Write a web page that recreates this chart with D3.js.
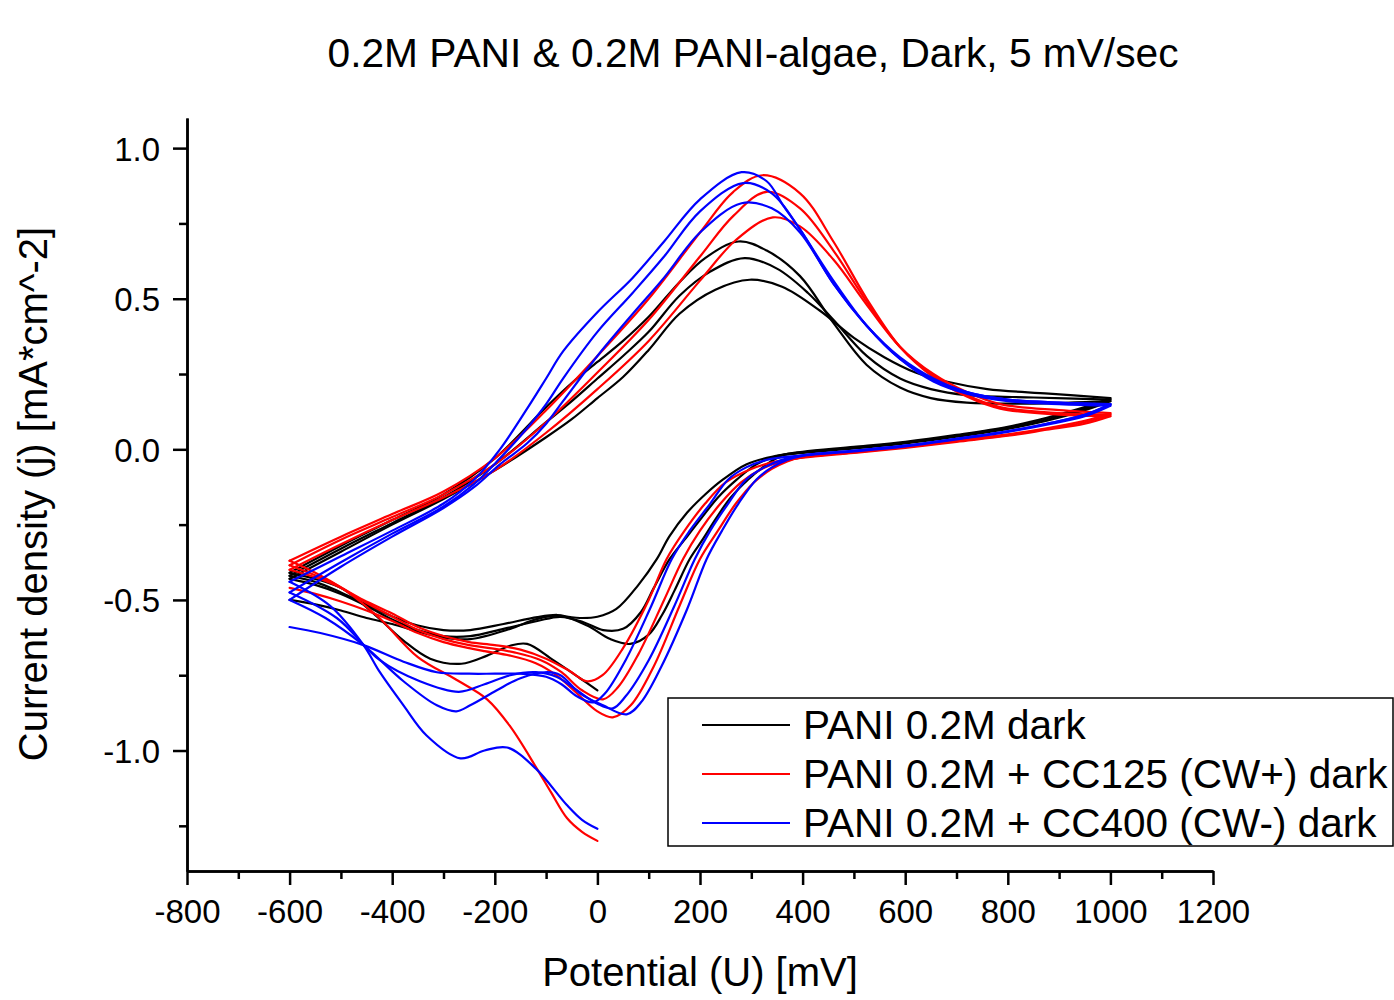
<!DOCTYPE html>
<html>
<head>
<meta charset="utf-8">
<script src="https://d3js.org/d3.v7.min.js"></script>
<style>
  body { margin: 0; background: #fff; }
  svg text { font-family: "Liberation Sans", Arial, sans-serif; fill: #000; }
</style>
</head>
<body>
<svg id="chart" width="1394" height="1000"></svg>
<script>
// potential [mV], current density [mA/cm^2]
// each run: start at 0 mV going cathodic, then 3 full cycles -600 .. 1000
const blackInit = [[0,-0.80],[-34,-0.76],[-86,-0.70],[-137,-0.646],[-170,-0.652],[-215,-0.685],[-265,-0.712],[-326,-0.695],[-378,-0.635],[-430,-0.555],[-495,-0.465],[-550,-0.43],[-600,-0.41]];
const blackAn1 = [[-600,-0.41],[-500,-0.32],[-400,-0.235],[-300,-0.15],[-200,-0.03],[-100,0.14],[-50,0.22],[0,0.29],[50,0.36],[100,0.44],[160,0.555],[210,0.635],[275,0.69],[330,0.66],[395,0.575],[460,0.42],[525,0.28],[590,0.205],[650,0.17],[720,0.155],[850,0.152],[1000,0.16]];
const blackCat1 = [[1000,0.16],[950,0.13],[876,0.095],[800,0.068],[700,0.042],[600,0.02],[500,0.003],[400,-0.012],[340,-0.025],[290,-0.05],[245,-0.10],[210,-0.15],[175,-0.21],[140,-0.29],[116,-0.364],[80,-0.45],[37,-0.53],[0,-0.556],[-34,-0.56],[-53,-0.557],[-78,-0.55],[-117,-0.557],[-183,-0.58],[-248,-0.60],[-300,-0.60],[-350,-0.585],[-400,-0.555],[-450,-0.515],[-500,-0.475],[-550,-0.44],[-600,-0.42]];
const blackAn2 = [[-600,-0.42],[-500,-0.33],[-400,-0.245],[-300,-0.16],[-200,-0.05],[-100,0.09],[-50,0.16],[0,0.235],[50,0.31],[100,0.39],[160,0.51],[220,0.59],[287,0.635],[350,0.60],[410,0.52],[460,0.43],[525,0.31],[590,0.235],[650,0.20],[720,0.18],[850,0.172],[1000,0.165]];
const blackCat2 = [[1000,0.165],[950,0.135],[876,0.10],[800,0.072],[700,0.045],[600,0.022],[500,0.005],[400,-0.01],[350,-0.022],[310,-0.05],[272,-0.10],[235,-0.16],[202,-0.23],[170,-0.30],[141,-0.364],[110,-0.46],[85,-0.54],[50,-0.596],[11,-0.60],[-27,-0.574],[-72,-0.556],[-117,-0.57],[-183,-0.596],[-248,-0.62],[-300,-0.62],[-350,-0.60],[-400,-0.565],[-450,-0.52],[-500,-0.48],[-550,-0.45],[-600,-0.43]];
const blackAn3 = [[-600,-0.43],[-500,-0.34],[-400,-0.25],[-300,-0.165],[-200,-0.07],[-100,0.04],[-50,0.10],[0,0.17],[50,0.24],[100,0.33],[160,0.45],[230,0.53],[297,0.563],[360,0.54],[434,0.46],[500,0.37],[560,0.305],[620,0.255],[680,0.225],[760,0.20],[880,0.185],[1000,0.17]];
const blackCat3 = [[1000,0.17],[950,0.14],[876,0.105],[800,0.075],[700,0.048],[600,0.025],[500,0.008],[400,-0.008],[360,-0.02],[330,-0.05],[294,-0.10],[260,-0.16],[231,-0.23],[205,-0.30],[180,-0.364],[150,-0.47],[126,-0.55],[100,-0.615],[64,-0.646],[25,-0.63],[-20,-0.585],[-72,-0.553],[-117,-0.563],[-170,-0.596],[-248,-0.63],[-300,-0.625],[-350,-0.605],[-400,-0.58],[-450,-0.56],[-500,-0.535],[-550,-0.515],[-600,-0.50]];

const redInit = [[0,-1.30],[-30,-1.27],[-59,-1.225],[-90,-1.14],[-118,-1.06],[-170,-0.92],[-215,-0.83],[-275,-0.765],[-350,-0.69],[-425,-0.56],[-490,-0.47],[-550,-0.41],[-600,-0.37]];
const redAn1 = [[-600,-0.37],[-500,-0.29],[-400,-0.215],[-300,-0.14],[-200,-0.03],[-100,0.13],[0,0.31],[100,0.50],[200,0.72],[265,0.855],[322,0.91],[395,0.85],[460,0.69],[525,0.50],[590,0.34],[655,0.24],[720,0.175],[785,0.135],[900,0.115],[1000,0.11]];
const redCat1 = [[1000,0.11],[950,0.085],[876,0.065],[800,0.045],[700,0.025],[600,0.005],[500,-0.012],[400,-0.028],[350,-0.04],[300,-0.065],[250,-0.11],[210,-0.18],[170,-0.27],[135,-0.364],[100,-0.50],[50,-0.66],[10,-0.75],[-20,-0.77],[-55,-0.735],[-100,-0.695],[-150,-0.665],[-200,-0.65],[-250,-0.64],[-300,-0.62],[-350,-0.59],[-400,-0.545],[-456,-0.50],[-521,-0.44],[-600,-0.385]];
const redAn2 = [[-600,-0.385],[-500,-0.30],[-400,-0.225],[-300,-0.15],[-200,-0.05],[-100,0.09],[0,0.255],[100,0.43],[200,0.64],[265,0.775],[330,0.855],[395,0.80],[460,0.66],[525,0.49],[590,0.34],[655,0.245],[720,0.18],[785,0.14],[900,0.12],[1000,0.115]];
const redCat2 = [[1000,0.115],[950,0.09],[876,0.068],[800,0.047],[700,0.027],[600,0.007],[500,-0.01],[400,-0.027],[360,-0.04],[320,-0.065],[280,-0.11],[240,-0.18],[200,-0.27],[167,-0.364],[130,-0.50],[80,-0.68],[40,-0.79],[11,-0.83],[-30,-0.80],[-70,-0.74],[-110,-0.70],[-160,-0.675],[-210,-0.66],[-250,-0.65],[-300,-0.63],[-350,-0.60],[-400,-0.555],[-450,-0.51],[-500,-0.46],[-550,-0.425],[-600,-0.40]];
const redAn3 = [[-600,-0.40],[-500,-0.315],[-400,-0.235],[-300,-0.16],[-200,-0.07],[-100,0.055],[0,0.20],[100,0.36],[200,0.56],[270,0.695],[342,0.77],[395,0.74],[460,0.63],[525,0.48],[590,0.34],[655,0.25],[720,0.19],[785,0.15],[900,0.13],[1000,0.12]];
const redCat3 = [[1000,0.12],[950,0.095],[876,0.07],[800,0.05],[700,0.03],[600,0.01],[500,-0.008],[400,-0.025],[370,-0.04],[340,-0.065],[305,-0.11],[270,-0.18],[235,-0.27],[200,-0.364],[160,-0.52],[110,-0.72],[65,-0.85],[30,-0.89],[0,-0.87],[-40,-0.81],[-80,-0.75],[-120,-0.71],[-170,-0.685],[-220,-0.67],[-250,-0.66],[-300,-0.64],[-350,-0.61],[-400,-0.57],[-450,-0.535],[-500,-0.505],[-550,-0.48],[-600,-0.46]];

const blueInit = [[0,-1.26],[-30,-1.23],[-60,-1.18],[-120,-1.06],[-176,-0.99],[-220,-1.0],[-267,-1.026],[-333,-0.95],[-378,-0.85],[-424,-0.74],[-456,-0.65],[-521,-0.52],[-600,-0.44]];
const blueAn1 = [[-600,-0.44],[-500,-0.355],[-400,-0.27],[-300,-0.18],[-240,-0.10],[-190,0.0],[-137,0.135],[-100,0.235],[-67,0.325],[0,0.455],[69,0.57],[130,0.69],[200,0.83],[281,0.92],[330,0.89],[362,0.81],[395,0.73],[460,0.56],[525,0.41],[590,0.30],[655,0.23],[720,0.19],[800,0.165],[900,0.155],[1000,0.15]];
const blueCat1 = [[1000,0.15],[950,0.115],[876,0.085],[800,0.06],[700,0.035],[600,0.012],[500,-0.005],[400,-0.02],[360,-0.035],[325,-0.06],[290,-0.10],[255,-0.18],[220,-0.27],[190,-0.364],[150,-0.52],[100,-0.70],[55,-0.82],[30,-0.86],[0,-0.845],[-40,-0.80],[-80,-0.755],[-120,-0.74],[-170,-0.75],[-220,-0.78],[-270,-0.805],[-346,-0.77],[-424,-0.70],[-508,-0.56],[-600,-0.475]];
const blueAn2 = [[-600,-0.475],[-500,-0.375],[-400,-0.28],[-300,-0.19],[-240,-0.115],[-190,-0.03],[-137,0.07],[-100,0.15],[-67,0.235],[0,0.39],[69,0.52],[130,0.64],[200,0.79],[284,0.884],[340,0.85],[395,0.73],[460,0.55],[525,0.41],[590,0.30],[655,0.225],[720,0.185],[800,0.16],[900,0.15],[1000,0.145]];
const blueCat2 = [[1000,0.145],[950,0.11],[876,0.082],[800,0.058],[700,0.033],[600,0.01],[500,-0.007],[400,-0.022],[370,-0.035],[340,-0.06],[310,-0.10],[275,-0.18],[243,-0.27],[213,-0.364],[175,-0.53],[125,-0.72],[85,-0.84],[57,-0.88],[11,-0.85],[-34,-0.81],[-72,-0.75],[-98,-0.74],[-150,-0.76],[-196,-0.80],[-248,-0.85],[-275,-0.87],[-313,-0.85],[-378,-0.77],[-456,-0.65],[-530,-0.56],[-600,-0.50]];
const blueAn3 = [[-600,-0.50],[-500,-0.39],[-400,-0.29],[-300,-0.195],[-240,-0.125],[-190,-0.05],[-137,0.02],[-100,0.085],[-67,0.16],[0,0.31],[69,0.45],[130,0.57],[200,0.72],[281,0.817],[340,0.80],[395,0.72],[460,0.55],[525,0.41],[590,0.305],[655,0.235],[720,0.19],[800,0.165],[900,0.155],[1000,0.15]];
const blueCat3 = [[1000,0.15],[950,0.115],[876,0.085],[800,0.06],[700,0.035],[600,0.012],[500,-0.004],[400,-0.02],[330,-0.035],[290,-0.06],[255,-0.10],[220,-0.18],[180,-0.27],[145,-0.364],[105,-0.52],[55,-0.70],[15,-0.81],[-8,-0.84],[-40,-0.82],[-70,-0.78],[-100,-0.755],[-150,-0.745],[-200,-0.745],[-250,-0.745],[-313,-0.74],[-378,-0.705],[-456,-0.65],[-540,-0.61],[-600,-0.59]];

const seriesNames = ["PANI 0.2M dark", "PANI 0.2M + CC125 (CW+) dark", "PANI 0.2M + CC400 (CW-) dark"];
const seriesColors = ["#000000", "#ff0000", "#0000ff"];

const xMajor = [-800, -600, -400, -200, 0, 200, 400, 600, 800, 1000, 1200];
const xMinor = [-700, -500, -300, -100, 100, 300, 500, 700, 900, 1100];
const yMajor = [-1.0, -0.5, 0.0, 0.5, 1.0];
const yMinor = [-1.25, -0.75, -0.25, 0.25, 0.75];

const series = [
    { name: seriesNames[0], color: seriesColors[0], parts: [blackInit, blackAn1, blackCat1, blackAn2, blackCat2, blackAn3, blackCat3] },
    { name: seriesNames[1], color: seriesColors[1], parts: [redInit, redAn1, redCat1, redAn2, redCat2, redAn3, redCat3] },
    { name: seriesNames[2], color: seriesColors[2], parts: [blueInit, blueAn1, blueCat1, blueAn2, blueCat2, blueAn3, blueCat3] },
];

let svg = d3.select("#chart");
svg.append("rect").attr("width", 1394).attr("height", 1000).attr("fill", "#fff");

let x = d3.scaleLinear().domain([-800, 1200]).range([187, 1213]);
let y = d3.scaleLinear().domain([-1.4, 1.1]).range([871, 118]);

// minor ticks first, then major ticks with labels
let gxMinor = svg.append("g")
    .attr("transform", "translate(0,871)")
    .call(d3.axisBottom(x).tickValues(xMinor).tickSize(8).tickSizeOuter(0).tickFormat(""));
let gx = svg.append("g")
    .attr("transform", "translate(0,871)")
    .call(d3.axisBottom(x).tickValues(xMajor).tickSize(14).tickSizeOuter(0).tickPadding(15)
        .tickFormat(d => String(d)));

let gyMinor = svg.append("g")
    .attr("transform", "translate(187,0)")
    .call(d3.axisLeft(y).tickValues(yMinor).tickSize(8).tickSizeOuter(0).tickFormat(""));
let gy = svg.append("g")
    .attr("transform", "translate(187,0)")
    .call(d3.axisLeft(y).tickValues(yMajor).tickSize(14).tickSizeOuter(0).tickPadding(13)
        .tickFormat(d => d.toFixed(1)));

[gxMinor, gx, gyMinor, gy].forEach(g => {
    g.selectAll("path.domain").attr("stroke", "#000").attr("stroke-width", 2.5);
    g.selectAll(".tick line").attr("stroke", "#000").attr("stroke-width", 2.5);
    g.selectAll(".tick text").attr("font-size", 33).attr("font-family", "Liberation Sans, Arial, sans-serif").attr("fill", "#000");
});
gy.selectAll(".tick text").attr("dy", "0.36em");

// curves, one path per sweep
let line = d3.line()
    .x(d => x(d[0]))
    .y(d => y(d[1]))
    .curve(d3.curveCatmullRom.alpha(0.5));

let plot = svg.append("g");
series.forEach(s => {
    plot.append("g")
        .selectAll("path")
        .data(s.parts)
        .enter()
        .append("path")
        .attr("d", line)
        .attr("fill", "none")
        .attr("stroke", s.color)
        .attr("stroke-width", 2.2)
        .attr("stroke-linecap", "round")
        .attr("stroke-linejoin", "round");
});

// titles
svg.append("text")
    .attr("x", 753).attr("y", 67)
    .attr("text-anchor", "middle")
    .attr("font-size", 40.7)
    .text("0.2M PANI & 0.2M PANI-algae, Dark, 5 mV/sec");

svg.append("text")
    .attr("x", 700).attr("y", 986)
    .attr("text-anchor", "middle")
    .attr("font-size", 40)
    .text("Potential (U) [mV]");

svg.append("text")
    .attr("transform", "translate(47,494) rotate(-90)")
    .attr("text-anchor", "middle")
    .attr("font-size", 40)
    .text("Current density (j) [mA*cm^-2]");

// legend
let legend = svg.append("g");
legend.append("rect")
    .attr("x", 668).attr("y", 698)
    .attr("width", 725).attr("height", 148)
    .attr("fill", "#fff")
    .attr("stroke", "#000")
    .attr("stroke-width", 1.5);

let item = legend.selectAll("g.item")
    .data(series)
    .enter()
    .append("g")
    .attr("class", "item")
    .attr("transform", (d, i) => `translate(0, ${725 + i * 49})`);

item.append("line")
    .attr("x1", 702).attr("x2", 790)
    .attr("y1", 0).attr("y2", 0)
    .attr("stroke", d => d.color)
    .attr("stroke-width", 2);

item.append("text")
    .attr("x", 803).attr("y", 14)
    .attr("font-size", 40.5)
    .text(d => d.name);
</script>
</body>
</html>
